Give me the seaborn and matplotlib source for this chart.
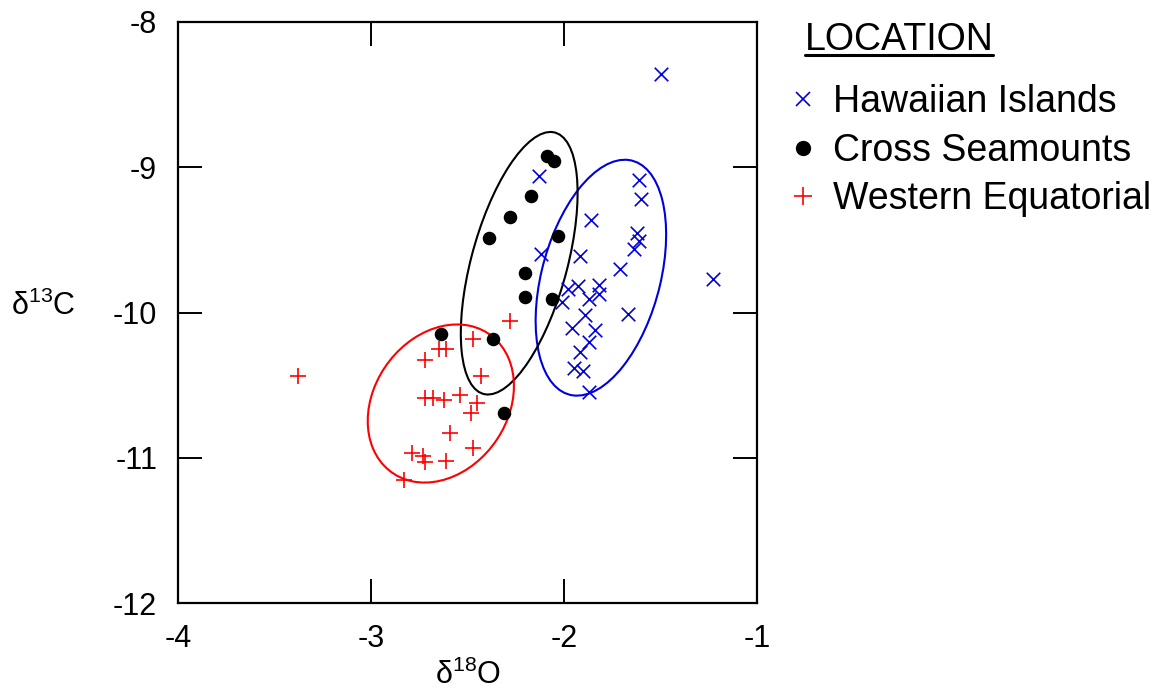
import numpy as np
import pandas as pd
import matplotlib
matplotlib.use("Agg")
import matplotlib.pyplot as plt
from matplotlib.patches import Ellipse
from matplotlib.lines import Line2D
import seaborn as sns

# ---- data ----
haw_x = [-1.50, -1.23, -2.13, -1.61, -1.60, -1.86, -2.12, -1.92, -1.62, -1.61, -1.64,
         -1.71, -1.98, -1.93, -1.82, -1.82, -2.01, -1.87, -1.67, -1.89, -1.96, -1.84,
         -1.87, -1.92, -1.95, -1.90, -1.87]
haw_y = [-8.36, -9.77, -9.06, -9.09, -9.22, -9.36, -9.60, -9.61, -9.45, -9.51, -9.56,
         -9.70, -9.84, -9.82, -9.81, -9.87, -9.93, -9.91, -10.01, -10.02, -10.11, -10.12,
         -10.20, -10.27, -10.38, -10.40, -10.55]

cross_x = [-2.09, -2.05, -2.17, -2.28, -2.39, -2.03, -2.20, -2.20, -2.06, -2.37, -2.31, -2.64]
cross_y = [-8.92, -8.96, -9.20, -9.34, -9.49, -9.47, -9.73, -9.89, -9.91, -10.18, -10.69, -10.15]

west_x = [-3.38, -2.65, -2.61, -2.47, -2.28, -2.72, -2.43, -2.72, -2.68, -2.62,
          -2.54, -2.45, -2.48, -2.59, -2.47, -2.79, -2.73, -2.72, -2.61, -2.83]
west_y = [-10.44, -10.25, -10.25, -10.18, -10.06, -10.33, -10.44, -10.59, -10.59, -10.60,
          -10.57, -10.62, -10.69, -10.83, -10.93, -10.97, -10.99, -11.03, -11.02, -11.15]

locations = ["Hawaiian Islands", "Cross Seamounts", "Western Equatorial"]
legend_title = "LOCATION"
x_ticks = [-4, -3, -2, -1]
y_ticks = [-12, -11, -10, -9, -8]

# ---- styling ----
sns.set_theme(style="white")
plt.rcParams["font.family"] = ["Liberation Sans", "DejaVu Sans"]
plt.rcParams["mathtext.fontset"] = "custom"
plt.rcParams["mathtext.rm"] = "Liberation Sans"
plt.rcParams["mathtext.it"] = "Liberation Sans:italic"
plt.rcParams["text.color"] = "black"
plt.rcParams["axes.labelcolor"] = "black"

fig = plt.figure(figsize=(11.66, 6.94), dpi=100)
ax = fig.add_axes([0.1527, 0.1311, 0.4966, 0.8372])

groups = [
    (haw_x, haw_y, "#0000dd", "x", 95, 1.2),
    (cross_x, cross_y, "black", "o", 95, 0),
    (west_x, west_y, "#ff0000", "+", 135, 1.2),
]

N_STD = 1.7
for (gx, gy, col, mk, sz, lw), name in zip(groups, locations):
    df = pd.DataFrame({"x": gx, "y": gy})
    if mk == "o":
        sns.scatterplot(data=df, x="x", y="y", ax=ax, color=col, marker=mk, s=sz,
                        edgecolor=col, linewidth=0, legend=False, zorder=3)
    else:
        sns.scatterplot(data=df, x="x", y="y", ax=ax, color=col, marker=mk, s=sz,
                        linewidth=lw, legend=False, zorder=3)
    cov = np.cov(np.array(gx), np.array(gy))
    vals, vecs = np.linalg.eigh(cov)
    order = vals.argsort()[::-1]
    vals, vecs = vals[order], vecs[:, order]
    angle = np.degrees(np.arctan2(vecs[1, 0], vecs[0, 0]))
    w, h = 2 * N_STD * np.sqrt(vals)
    ax.add_patch(Ellipse((np.mean(gx), np.mean(gy)), w, h, angle=angle,
                         fill=False, edgecolor=col, linewidth=1.5, zorder=2))

ax.set_xlim(-4, -1)
ax.set_ylim(-12, -8)
ax.set_xticks(x_ticks)
ax.set_yticks(y_ticks)
ax.set_xticklabels([str(v) for v in x_ticks])
ax.set_yticklabels([str(v) for v in y_ticks])
ax.tick_params(direction="in", length=17, width=1.4, top=True, right=True,
               bottom=True, left=True, labelsize=22, colors="black")
ax.tick_params(axis="y", pad=15)
ax.tick_params(axis="x", pad=15)
for sp in ax.spines.values():
    sp.set_color("black")
    sp.set_linewidth(1.6)

ax.set_xlabel(r"δ$^{18}$O", fontsize=22, va="top")
ax.xaxis.set_label_coords(0.5, -0.098)
ax.set_ylabel(r"δ$^{13}$C", fontsize=22, rotation=0, va="center", ha="center")
ax.yaxis.set_label_coords(-0.232, 0.51)

handles = [
    Line2D([], [], linestyle="none", marker="x", color="#0000dd", markersize=10, markeredgewidth=1.2),
    Line2D([], [], linestyle="none", marker="o", color="black", markersize=10),
    Line2D([], [], linestyle="none", marker="+", color="#ff0000", markersize=13, markeredgewidth=1.2),
]
leg = fig.legend(handles, locations, loc="upper left", bbox_to_anchor=(0.666, 0.90),
                 frameon=False, fontsize=27, handletextpad=0.5, handlelength=0.6,
                 labelspacing=0.33, borderaxespad=0)

title = fig.text(0.690, 0.928, legend_title, fontsize=27, ha="left", va="baseline")
fig.canvas.draw()
bb = title.get_window_extent().transformed(fig.transFigure.inverted())
fig.add_artist(Line2D([bb.x0, bb.x1], [0.9205, 0.9205], color="black", linewidth=2.2,
                      transform=fig.transFigure))

fig.savefig("out.png", dpi=100)
